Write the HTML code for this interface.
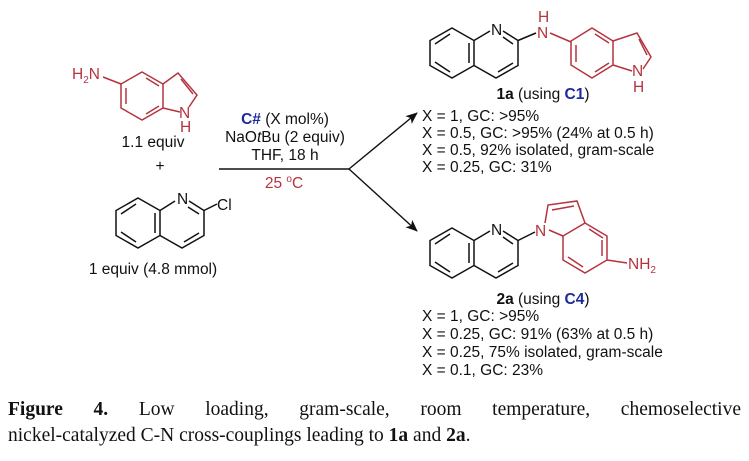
<!DOCTYPE html>
<html><head><meta charset="utf-8"><style>
html,body{margin:0;padding:0;background:#fff;}
svg{display:block}
.t{font-family:"Liberation Sans",sans-serif;font-size:15.5px;fill:#111}
.cap{position:absolute;left:8px;top:397px;width:733px;font-family:"Liberation Serif",serif;font-size:19.5px;line-height:26px;color:#111;text-align:justify;text-align-last:left}
.l1{text-align:justify;text-align-last:justify;white-space:nowrap;display:block}
</style></head><body>
<svg width="749" height="461" viewBox="0 0 749 461" xmlns="http://www.w3.org/2000/svg">
<defs><marker id="ah" markerWidth="12" markerHeight="10" refX="11" refY="5" orient="auto" markerUnits="userSpaceOnUse"><path d="M0,0 L12,5 L0,10 L3,5Z" fill="#111"/></marker></defs>
<g fill="none" stroke-width="1.5">
<g stroke="#b5333f">
<polygon points="142,72 163,84 163,108 142,120 121,108 121,84"/>
<line x1="146" y1="78" x2="159" y2="86"/><line x1="146" y1="114" x2="159" y2="106"/><line x1="126" y1="88" x2="126" y2="104"/>
<polyline points="163,84 178,73 197,95 189,107"/><line x1="163" y1="108" x2="180" y2="112"/>
<line x1="181" y1="79" x2="193" y2="94"/>
<line x1="103" y1="77" x2="121" y2="84"/>
</g>
<g stroke="#111">
<polygon points="138,198 160,210.5 160,235.5 138,248 116,235.5 116,210.5"/>
<line x1="121" y1="214" x2="136" y2="204"/><line x1="121" y1="232" x2="136" y2="242"/><line x1="155" y1="213" x2="155" y2="233"/>
<polyline points="160,210.5 175,201"/><polyline points="189,201 204,210.5 204,235.5 182,248 160,235.5"/>
<line x1="199" y1="214" x2="188" y2="207"/><line x1="199" y1="233" x2="184" y2="242"/>
<line x1="204" y1="210.5" x2="217" y2="204"/>
</g>
<g stroke="#111">
<polygon points="452,28 474,40.5 474,65.5 452,78 430,65.5 430,40.5"/>
<line x1="435" y1="44" x2="450" y2="34"/><line x1="435" y1="62" x2="450" y2="72"/><line x1="469" y1="43" x2="469" y2="63"/>
<line x1="474" y1="40.5" x2="490" y2="31"/><polyline points="503,31 518,40.5 518,65.5 496,78 474,65.5"/>
<line x1="513" y1="44" x2="503" y2="37"/><line x1="513" y1="63" x2="498" y2="72"/>
<line x1="518" y1="40.5" x2="536" y2="33"/>
</g>
<g stroke="#b5333f">
<line x1="550" y1="33" x2="571" y2="42"/>
<polygon points="592,28 613,41 613,65 592,78 571,65 571,41"/>
<line x1="576" y1="45" x2="576" y2="62"/><line x1="595" y1="34" x2="609" y2="43"/><line x1="595" y1="72" x2="609" y2="63"/>
<polyline points="613,41 637,33 651,57 643,69"/><line x1="613" y1="65" x2="632" y2="71"/>
<line x1="639" y1="39" x2="647" y2="55"/>
</g>
<g stroke="#111">
<polygon points="452,228 474,240.5 474,265.5 452,278 430,265.5 430,240.5"/>
<line x1="435" y1="244" x2="450" y2="234"/><line x1="435" y1="262" x2="450" y2="272"/><line x1="469" y1="243" x2="469" y2="263"/>
<line x1="474" y1="240.5" x2="490" y2="231"/><polyline points="503,231 518,240.5 518,265.5 496,278 474,265.5"/>
<line x1="513" y1="244" x2="503" y2="237"/><line x1="513" y1="263" x2="498" y2="272"/>
<line x1="518" y1="240.5" x2="535" y2="232"/>
</g>
<g stroke="#b5333f">
<polyline points="545,223 548,205 577,201 585,223"/><line x1="552" y1="210" x2="574" y2="206"/>
<line x1="549" y1="230" x2="563" y2="236"/>
<polygon points="585,223 607,236 607,260 585,273 563,260 563,236"/>
<line x1="589" y1="229" x2="603" y2="238"/><line x1="602" y1="240" x2="602" y2="256"/><line x1="568" y1="257" x2="583" y2="267"/>
<line x1="607" y1="260" x2="627" y2="263"/>
</g>
<g stroke="#111" stroke-width="1.4">
<line x1="219" y1="169" x2="349" y2="169"/>
<line x1="349" y1="169" x2="417" y2="113" marker-end="url(#ah)"/>
<line x1="349" y1="169" x2="417" y2="231" marker-end="url(#ah)"/>
</g>
</g>
<g class="t" font-size="15.5">
<text x="72" y="79" fill="#b5333f">H<tspan font-size="10" dy="4">2</tspan><tspan dy="-4">N</tspan></text>
<text x="179" y="118" fill="#b5333f">N</text><text x="180" y="132" fill="#b5333f">H</text>
<text x="177" y="204">N</text><text x="217" y="210">Cl</text>
<text x="491" y="35">N</text>
<text x="537" y="38" fill="#b5333f">N</text><text x="538" y="22" fill="#b5333f">H</text>
<text x="632" y="76" fill="#b5333f">N</text><text x="633" y="92" fill="#b5333f">H</text>
<text x="491" y="235">N</text>
<text x="535" y="236" fill="#b5333f">N</text>
<text x="628" y="269" fill="#b5333f">NH<tspan font-size="10" dy="4">2</tspan></text>
</g>
<g class="t">
<text x="153" y="147" text-anchor="middle">1.1 equiv</text>
<text x="160" y="171" text-anchor="middle">+</text>
<text x="153" y="274" text-anchor="middle">1 equiv (4.8 mmol)</text>
<text x="285" y="124" text-anchor="middle"><tspan font-weight="bold" fill="#1c2a9c">C#</tspan> (X mol%)</text>
<text x="285" y="142" text-anchor="middle">NaO<tspan font-style="italic">t</tspan>Bu (2 equiv)</text>
<text x="285" y="160" text-anchor="middle">THF, 18 h</text>
<text x="284" y="188" text-anchor="middle" fill="#b5333f">25 <tspan font-size="10" dy="-6">o</tspan><tspan dy="6">C</tspan></text>
<text x="543" y="99" text-anchor="middle"><tspan font-weight="bold">1a</tspan> (using <tspan font-weight="bold" fill="#1c2a9c">C1</tspan>)</text>
<text x="422" y="121">X = 1, GC: &gt;95%</text>
<text x="422" y="138">X = 0.5, GC: &gt;95% (24% at 0.5 h)</text>
<text x="422" y="155">X = 0.5, 92% isolated, gram-scale</text>
<text x="422" y="172">X = 0.25, GC: 31%</text>
<text x="543" y="304" text-anchor="middle"><tspan font-weight="bold">2a</tspan> (using <tspan font-weight="bold" fill="#1c2a9c">C4</tspan>)</text>
<text x="422" y="321">X = 1, GC: &gt;95%</text>
<text x="422" y="339">X = 0.25, GC: 91% (63% at 0.5 h)</text>
<text x="422" y="357">X = 0.25, 75% isolated, gram-scale</text>
<text x="422" y="375">X = 0.1, GC: 23%</text>
</g>
</svg>
<div class="cap"><span class="l1"><b>Figure 4.</b> Low loading, gram-scale, room temperature, chemoselective</span>nickel-catalyzed C-N cross-couplings leading to <b>1a</b> and <b>2a</b>.</div>
</body></html>
